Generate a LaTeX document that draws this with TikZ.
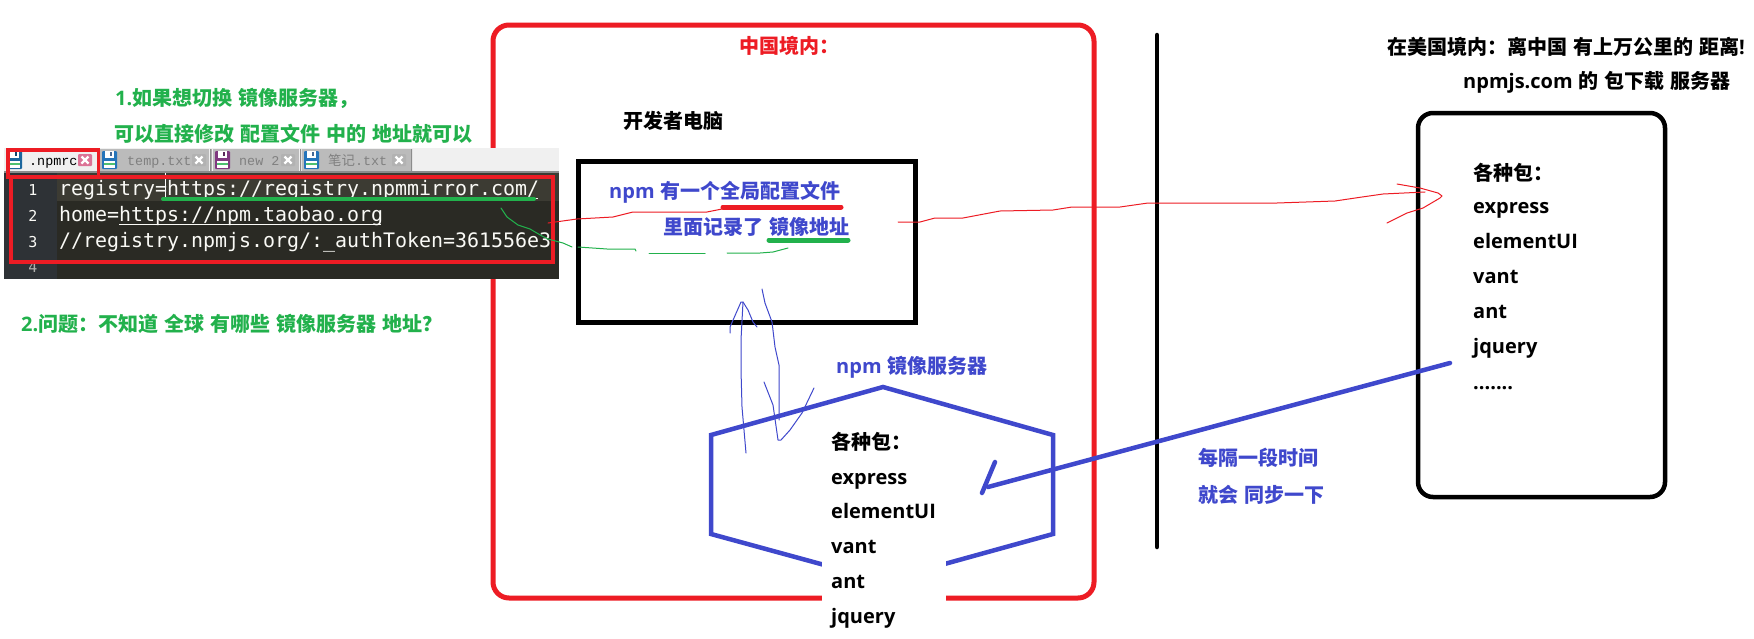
\documentclass[tikz,border=0pt]{standalone}
\usepackage{fontspec}
\setmainfont{Noto Sans CJK SC}
\newfontfamily\latf{Open Sans}
\newfontfamily\codef{DejaVu Sans Mono}
\newfontfamily\tabf{Liberation Mono}
\newfontfamily\cjkthin{Noto Sans CJK SC}
\newcommand{\lat}[1]{{\latf\bfseries #1}}
\definecolor{cblue}{HTML}{3F48CC}
\definecolor{cred}{HTML}{ED1C24}
\definecolor{cgreen}{HTML}{22B14C}
\definecolor{edbg}{HTML}{2A2A24}
\definecolor{edrow}{HTML}{3C3B33}
\definecolor{edgut}{HTML}{2E3236}
\definecolor{edtxt}{HTML}{FAFAF6}
\definecolor{tabgrey}{HTML}{BBBBBB}
\definecolor{barbg}{HTML}{F0F0F0}
\newcommand{\diskicon}[3]{%
  \fill[#3,rounded corners=1pt] (#1,#2) rectangle ++(15,18);
  \fill[white] (#1+3,#2) rectangle ++(9,7);
  \fill[#3!70!black] (#1+8,#2+1) rectangle ++(2,4);
  \fill[white] (#1+2,#2+10) rectangle ++(11,7);
  \fill[cgreen!80!white] (#1+2,#2+12) rectangle ++(11,2);
}
\newcommand{\closebtn}[3]{%
  \fill[#3,rounded corners=1pt] (#1,#2) rectangle ++(14,12);
  \draw[white,line width=2.2pt] (#1+3.5,#2+2.5) -- ++(7,7) (#1+10.5,#2+2.5) -- ++(-7,7);
}
\newcommand{\widesp}{\spaceskip=6pt\relax}
\tikzset{
  x=1pt,y=-1pt,
  lbl/.style={anchor=base west,inner sep=0pt,font=\fontsize{20}{24}\selectfont\bfseries,execute at begin node=\widesp},
  bluetxt/.style={lbl,text=cblue},
  greentxt/.style={lbl,text=cgreen},
  redtxt/.style={lbl,text=cred},
  blacktxt/.style={lbl,text=black},
  code/.style={anchor=base west,inner sep=0pt,text=edtxt,font=\codef\fontsize{19.93}{24}\selectfont},
  lineno/.style={anchor=base,inner sep=0pt,text=edtxt,font=\codef\fontsize{15}{18}\selectfont},
  tabtxt/.style={anchor=base west,inner sep=0pt,text=black!50,font=\tabf\fontsize{13.4}{16}\selectfont},
  bigbox/.style={draw,line width=#1,inner sep=0pt},
  thick blue/.style={draw=cblue,line width=4.5pt},
  pen/.style={line width=1pt,line join=round,line cap=round},
  marker/.style={line width=5pt,line cap=round},
}
\begin{document}
\begin{tikzpicture}
\useasboundingbox (0,0) rectangle (1754,638);
\fill[white] (0,0) rectangle (1754,638);

% large frames
\node[bigbox=5pt,draw=cred,rounded corners=16pt,minimum width=601pt,minimum height=573pt] (china) at (793.5,311.5) {};
\node[bigbox=5pt,draw=black,minimum width=337pt,minimum height=161pt] (pc) at (746.5,241.5) {};
\node[bigbox=4.5pt,draw=black,rounded corners=15pt,minimum width=247pt,minimum height=384pt] (usa) at (1541.5,305) {};
\draw[black,line width=4.5pt,line cap=round] (1157,35) coordinate (wallT) -- (1157,547) coordinate (wallB);

% mirror server
\draw[thick blue,line join=miter] (711,435) -- (883,387) -- (1053,435) -- (1053,534) -- (883,581) -- (711,534) -- cycle;

% white label patch with package list
\fill[white] (822,430) rectangle (946,638);
\node[blacktxt] (mhead) at (831,449) {各种包：};
\node[blacktxt] (m1) at (831,484) {\lat{express}};
\node[blacktxt] (m2) at (831,518.5) {\lat{elementUI}};
\node[blacktxt] (m3) at (831,553) {\lat{vant}};
\node[blacktxt] (m4) at (831,588) {\lat{ant}};
\node[blacktxt] (m5) at (831,623) {\lat{jquery}};

% editor screenshot
\fill[barbg] (4,148) rectangle (559,172);
\fill[black!45] (4,171) rectangle (559,173);
\fill[edbg] (4,173) rectangle (559,279);
\fill[edgut] (4,173) rectangle (57,279);
\fill[edrow] (57,173) rectangle (559,201);
\fill[tabgrey] (100,149) rectangle (209,171);
\fill[tabgrey] (213,149) rectangle (299,171);
\fill[tabgrey] (302,149) rectangle (411,171);
\fill[black!45] (210,149) rectangle (211.5,171) (300,149) rectangle (301,171) (411,149) rectangle (412,171);
\diskicon{7}{151}{cblue!60!cyan!70!black}
\diskicon{102}{151}{black!15!cyan!60!blue}
\diskicon{215}{151}{violet!55!gray}
\diskicon{304}{151}{black!15!cyan!60!blue}
\closebtn{78}{154}{purple!55!white}
\closebtn{192}{154}{black!30}
\closebtn{281}{154}{black!30}
\closebtn{392}{154}{black!30}
\node[tabtxt,text=black] (tab1) at (29,165) {.npmrc};
\node[tabtxt] (tab2) at (127,165) {temp.txt};
\node[tabtxt] (tab3) at (239,165) {new 2};
\node[tabtxt] (tab4) at (328,165) {{\cjkthin 笔记}.txt};

\node[lineno] (n1) at (33,195) {1};
\node[lineno] (n2) at (33,221) {2};
\node[lineno] (n3) at (33,247) {3};
\node[lineno,text=edtxt!70!black] (n4) at (33,272) {4};
\node[code] (c1) at (59,195) {registry=https://registry.npmmirror.com/};
\node[code] (c2) at (59,221) {home=https://npm.taobao.org};
\node[code] (c3) at (59,247) {//registry.npmjs.org/:\_authToken=361556e3};
\draw[edtxt,line width=1pt] (167,198) -- (538,198) (119,224) -- (381,224);
\draw[white,line width=1pt] (165.5,173) -- (165.5,198);

% red outlines on screenshot
\draw[cred,line width=3.5pt] (8,150) rectangle (98.5,177);
\draw[cred,line width=3.5pt] (11,177) rectangle (553,262);
\draw[cgreen,line width=4pt,line cap=round] (163,199) -- (534,199);

% annotations
\node[redtxt] (cnlabel) at (739,53) {中国境内：};
\node[blacktxt] (pclabel) at (623,128) {开发者电脑};
\node[greentxt] (g1) at (115,105) {\lat{1.}如果想切换 镜像服务器，};
\node[greentxt] (g2) at (114,141) {可以直接修改 配置文件 中的 地址就可以};
\node[greentxt] (g3) at (21,331) {\lat{2.}问题：不知道 全球 有哪些 镜像服务器 地址？};
\node[bluetxt] (p1) at (609,198) {\lat{npm} 有一个全局配置文件};
\node[bluetxt] (p2) at (663,234) {里面记录了 镜像地址};
\node[bluetxt] (mlabel) at (836,373) {\lat{npm} 镜像服务器};
\node[bluetxt] (s1) at (1198,465) {每隔一段时间};
\node[bluetxt] (s2) at (1198,502) {就会 同步一下};
\node[blacktxt] (u1) at (1387,54) {在美国境内：离中国 有上万公里的 距离\lat{!}};
\node[blacktxt] (u2) at (1463,88) {\lat{npmjs.com} 的 包下载 服务器};
\node[blacktxt] (uhead) at (1473,180) {各种包：};
\node[blacktxt] (r1) at (1473,213) {\lat{express}};
\node[blacktxt] (r2) at (1473,248) {\lat{elementUI}};
\node[blacktxt] (r3) at (1473,283) {\lat{vant}};
\node[blacktxt] (r4) at (1473,318) {\lat{ant}};
\node[blacktxt] (r5) at (1473,353) {\lat{jquery}};
\node[blacktxt] (r6) at (1473,389) {\lat{.......}};

% marker underlines
\draw[cred,marker] (723,207) -- (841,207);
\draw[cgreen,marker] (769,240) -- (848,240);

% sync arrow
\coordinate (syncA) at (1450,363);
\coordinate (syncB) at (988,487);
\coordinate (syncC) at (995,462);
\coordinate (syncD) at (982,493);
\draw[cblue,line width=4.5pt,line cap=round] (syncA) -- (syncB);
\draw[cblue,line width=4.5pt,line cap=round] (syncC) -- (syncD);

% freehand red arrow
\draw[cred,pen] (548,223) -- (577,219) -- (613,217) -- (633,212) -- (707,212) -- (727,208);
\draw[cred,pen] (898,222) -- (920,222) -- (935,218) -- (963,218) -- (1000,211) -- (1053,210) -- (1072,207) -- (1120,207) -- (1148,203) -- (1277,203) -- (1335,201) -- (1362,197) -- (1383,194) -- (1425,192);
\draw[cred,pen] (1397,184) -- (1420,188) -- (1438,193) -- (1442,196) -- (1440,198) -- (1423,208) -- (1407,213) -- (1387,223);

% freehand green trace
\draw[cgreen,pen] (501,208) -- (507,217) -- (518,225) -- (530,229) -- (542,236) -- (548,239) -- (563,243) -- (572,247);
\draw[cgreen,pen] (578,247) -- (607,249) -- (635,249) -- (636,251);
\draw[cgreen,pen] (649,253) -- (705,253);
\draw[cgreen,pen] (727,253) -- (760,253) -- (773,252) -- (788,248);

% freehand blue double arrow
\draw[cblue,pen] (730,333) -- (730,327) -- (741,302) -- (743,302) -- (748,310) -- (753,322) -- (757,327);
\draw[cblue,pen] (743,302) -- (741,340) -- (741,370) -- (742,407) -- (746,453);
\draw[cblue,pen] (762,289) -- (765,303) -- (772,322) -- (775,347) -- (779,365) -- (779,420);
\draw[cblue,pen] (764,382) -- (773,405) -- (778,440) -- (781,440) -- (790,430) -- (802,413) -- (814,388);
\end{tikzpicture}
\end{document}
